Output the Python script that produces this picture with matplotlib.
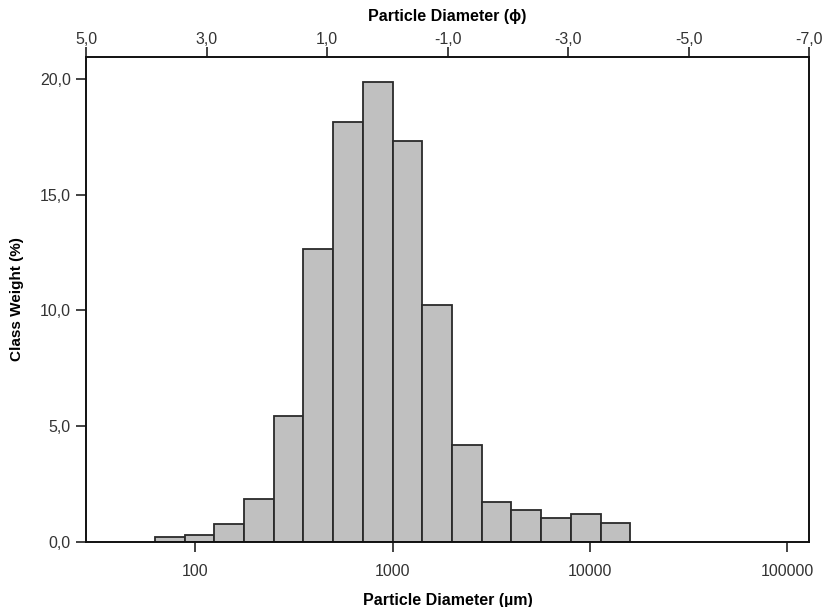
import numpy as np
import matplotlib
matplotlib.use("Agg")
import matplotlib.pyplot as plt
from matplotlib.ticker import FixedLocator, FuncFormatter, NullLocator

# Data: half-phi size classes (phi bounds) and class weights (%)
phi_upper = [4.0, 3.5, 3.0, 2.5, 2.0, 1.5, 1.0, 0.5, 0.0, -0.5, -1.0, -1.5, -2.0, -2.5, -3.0, -3.5]
phi_lower = [3.5, 3.0, 2.5, 2.0, 1.5, 1.0, 0.5, 0.0, -0.5, -1.0, -1.5, -2.0, -2.5, -3.0, -3.5, -4.0]
class_weight = [0.2, 0.3, 0.76, 1.83, 5.42, 12.65, 18.12, 19.88, 17.3, 10.23, 4.18, 1.70, 1.35, 1.01, 1.17, 0.81]

bottom_ticks = [100, 1000, 10000, 100000]
bottom_ticklabels = ["100", "1000", "10000", "100000"]
top_ticks = [5.0, 3.0, 1.0, -1.0, -3.0, -5.0, -7.0]
y_ticks = [0, 5, 10, 15, 20]

plt.rcParams['font.family'] = ['Liberation Sans', 'DejaVu Sans']

fig = plt.figure(figsize=(8.24, 6.07), dpi=100)
ax = fig.add_axes([0.1044, 0.1079, 0.8774, 0.7982])

d_left = 1000.0 * 2.0 ** (-np.array(phi_upper))
d_right = 1000.0 * 2.0 ** (-np.array(phi_lower))
ax.bar(d_left, class_weight, width=d_right - d_left, align='edge',
       color='#c0c0c0', edgecolor='#2a2a2a', linewidth=1.3, zorder=2)

ax.set_xscale('log')
ax.set_xlim(28.0, 128800)
ax.set_ylim(0, 20.95)

ax.xaxis.set_major_locator(FixedLocator(bottom_ticks))
ax.xaxis.set_minor_locator(NullLocator())
ax.set_xticks(bottom_ticks)
ax.set_xticklabels(bottom_ticklabels)
ax.set_yticks(y_ticks)
comma = FuncFormatter(lambda v, p: f"{v:.1f}".replace('.', ','))
ax.yaxis.set_major_formatter(comma)

tick_color = '#333333'
ax.tick_params(axis='both', direction='out', length=7, width=1.2, colors='#222222',
               labelcolor=tick_color, labelsize=11.5)
ax.tick_params(axis='x', pad=9)
ax.tick_params(axis='y', pad=4)
for s in ax.spines.values():
    s.set_linewidth(1.2)
    s.set_color('#111111')

ax.set_xlabel('Particle Diameter (\u00b5m)', fontsize=11.5, fontweight='bold', labelpad=10)
ax.set_ylabel('Class Weight (%)', fontsize=11, fontweight='bold', labelpad=11)

ax2 = ax.twiny()
ax2.set_xlim(5.0, -7.0)
ax2.set_xticks(top_ticks)
ax2.xaxis.set_major_formatter(comma)
ax2.tick_params(axis='x', direction='out', length=7, width=1.2, colors='#222222',
                labelcolor=tick_color, labelsize=11.5, pad=0)
for s in ax2.spines.values():
    s.set_linewidth(1.2)
    s.set_color('#111111')
ax2.set_xlabel('Particle Diameter (\u03d5)', fontsize=11.5, fontweight='bold', labelpad=8)

fig.savefig('out.png', dpi=100)
